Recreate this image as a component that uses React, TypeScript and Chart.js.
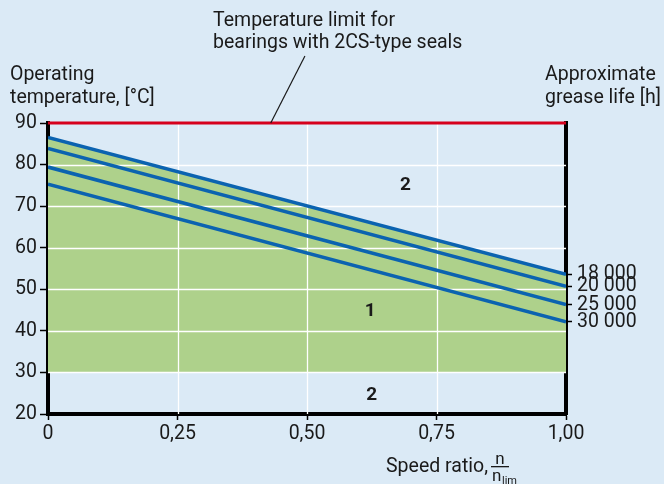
import { useEffect, useRef } from 'react';
import { Chart, registerables } from 'chart.js';
Chart.register(...registerables);

// ---- data ----
const speedRatio = [0, 1];
const life18000 = [86.5, 53.6];
const life20000 = [83.9, 50.7];
const life25000 = [79.4, 46.3];
const life30000 = [75.3, 42.2];
const lifeSeries = [life18000, life20000, life25000, life30000];
const lifeLabels = ['18 000', '20 000', '25 000', '30 000'];
const yTicks = [20, 30, 40, 50, 60, 70, 80, 90];
const xTicks = [0, 0.25, 0.5, 0.75, 1];
const xTickLabels = ['0', '0,25', '0,50', '0,75', '1,00'];
const tempLimit = 90;
const fillBase = 30;
const regionLabels = [
  { text: '2', x: 0.69, y: 75 },
  { text: '1', x: 0.622, y: 44.6 },
  { text: '2', x: 0.625, y: 24.6 },
];

const BG = '#dbeaf6';
const GREEN = '#aed18b';
const BLUE = '#0b63b0';
const RED = '#d6001c';
const FONT = 'Roboto, "DejaVu Sans", sans-serif';

export default function App() {
  const ref = useRef<HTMLCanvasElement>(null);
  useEffect(() => {
    const canvas = ref.current!;
    const pts = (ys: number[]) => speedRatio.map((x, i) => ({ x, y: ys[i] }));

    const gridPlugin = {
      id: 'gridOverFill',
      afterDatasetDraw(chart: any, args: any) {
        if (args.index !== 0) return;
        const { ctx, chartArea: a, scales } = chart;
        ctx.save();
        ctx.strokeStyle = '#ffffff';
        ctx.lineWidth = 1.3;
        xTicks.slice(1, -1).forEach((v) => {
          const px = Math.round(scales.x.getPixelForValue(v)) + 0.5;
          ctx.beginPath();
          ctx.moveTo(px, a.top);
          ctx.lineTo(px, a.bottom);
          ctx.stroke();
        });
        yTicks.slice(1, -1).forEach((v) => {
          const py = Math.round(scales.y.getPixelForValue(v)) + 0.5;
          ctx.beginPath();
          ctx.moveTo(a.left, py);
          ctx.lineTo(a.right, py);
          ctx.stroke();
        });
        ctx.restore();
      },
    };

    const annotPlugin = {
      id: 'annot',
      afterDraw(chart: any) {
        const { ctx, scales } = chart;
        ctx.save();
        ctx.fillStyle = '#1a1a1a';
        ctx.font = `19.5px ${FONT}`;
        ctx.textAlign = 'left';
        ctx.textBaseline = 'alphabetic';
        ctx.fillText('Temperature limit for', 213, 26);
        ctx.fillText('bearings with 2CS-type seals', 213, 48);
        ctx.fillText('Operating', 10, 80);
        ctx.fillText('temperature, [°C]', 10, 103);
        ctx.fillText('Approximate', 545, 80);
        ctx.fillText('grease life [h]', 545, 103);
        ctx.textAlign = 'right';
        ctx.fillText('Speed ratio,', 488, 472);
        // fraction n / n_lim
        ctx.font = `17px ${FONT}`;
        ctx.textAlign = 'center';
        ctx.fillText('n', 500, 464);
        ctx.fillRect(491, 466, 18, 1.3);
        ctx.textAlign = 'left';
        ctx.fillText('n', 492, 481);
        ctx.font = `11px ${FONT}`;
        ctx.fillText('lim', 502, 484);
        // leader line
        ctx.strokeStyle = '#1a1a1a';
        ctx.lineWidth = 1.2;
        ctx.beginPath();
        ctx.moveTo(scales.x.getPixelForValue(0.496), scales.y.getPixelForValue(106.1));
        ctx.lineTo(scales.x.getPixelForValue(0.43), scales.y.getPixelForValue(tempLimit));
        ctx.stroke();
        // region labels
        ctx.font = `bold 19px ${FONT}`;
        ctx.textAlign = 'center';
        ctx.textBaseline = 'middle';
        regionLabels.forEach((r) => {
          ctx.fillText(r.text, scales.x.getPixelForValue(r.x), scales.y.getPixelForValue(r.y));
        });
        ctx.restore();
      },
    };

    const chart = new Chart(canvas, {
      type: 'line',
      data: {
        datasets: [
          {
            data: pts(life18000),
            fill: { value: fillBase },
            backgroundColor: GREEN,
            borderWidth: 0,
            pointRadius: 0,
            order: 10,
          } as any,
          ...lifeSeries.map((s) => ({
            data: pts(s),
            borderColor: BLUE,
            borderWidth: 3.5,
            pointRadius: 0,
            fill: false,
            order: 1,
          })),
          {
            data: pts([tempLimit, tempLimit]),
            borderColor: RED,
            borderWidth: 2.8,
            pointRadius: 0,
            fill: false,
            order: 0,
            clip: 8,
          } as any,
        ],
      },
      options: {
        animation: false,
        responsive: false,
        devicePixelRatio: 1,
        layout: { padding: { top: 123, left: 0, right: 0, bottom: 0 } },
        plugins: { legend: { display: false }, tooltip: { enabled: false } },
        scales: {
          x: {
            type: 'linear',
            min: 0,
            max: 1,
            z: 1,
            afterFit: (s: any) => { s.height = 70; },
            afterBuildTicks: (s: any) => { s.ticks = xTicks.map((v) => ({ value: v })); },
            ticks: {
              callback: (_v: any, i: number) => xTickLabels[i],
              color: '#1a1a1a',
              font: { family: FONT, size: 19.5 },
              padding: 2,
              maxRotation: 0,
            },
            grid: { color: 'transparent', tickColor: '#000', tickLength: 6, tickWidth: 1.5, drawOnChartArea: false },
            border: { color: '#000', width: 4 },
          },
          y: {
            type: 'linear',
            position: 'left',
            min: 20,
            max: 90,
            z: 1,
            afterFit: (s: any) => { s.width = 48; },
            afterBuildTicks: (s: any) => { s.ticks = yTicks.map((v) => ({ value: v })); },
            ticks: {
              color: '#1a1a1a',
              font: { family: FONT, size: 19.5 },
              padding: 3,
            },
            grid: { color: 'transparent', tickColor: '#000', tickLength: 8, tickWidth: 1.5, drawOnChartArea: false },
            border: { color: '#000', width: 4 },
          },
          y2: {
            type: 'linear',
            position: 'right',
            min: 20,
            max: 90,
            z: 1,
            afterFit: (s: any) => { s.width = 98; },
            afterBuildTicks: (s: any) => { s.ticks = lifeSeries.map((d) => ({ value: d[d.length - 1] })); },
            ticks: {
              callback: (_v: any, i: number) => lifeLabels[i],
              color: '#1a1a1a',
              font: { family: FONT, size: 19.5 },
              padding: 5,
              autoSkip: false,
            },
            grid: { color: 'transparent', tickColor: '#000', tickLength: 6, tickWidth: 1.5, drawOnChartArea: false },
            border: { color: '#000', width: 4 },
          },
        },
      },
      plugins: [gridPlugin, annotPlugin],
    } as any);
    return () => chart.destroy();
  }, []);

  return (
    <div style={{ position: 'fixed', left: 0, top: 0, width: 664, height: 484, background: BG }}>
      <canvas ref={ref} width={664} height={484} style={{ display: 'block', width: 664, height: 484 }} />
    </div>
  );
}
